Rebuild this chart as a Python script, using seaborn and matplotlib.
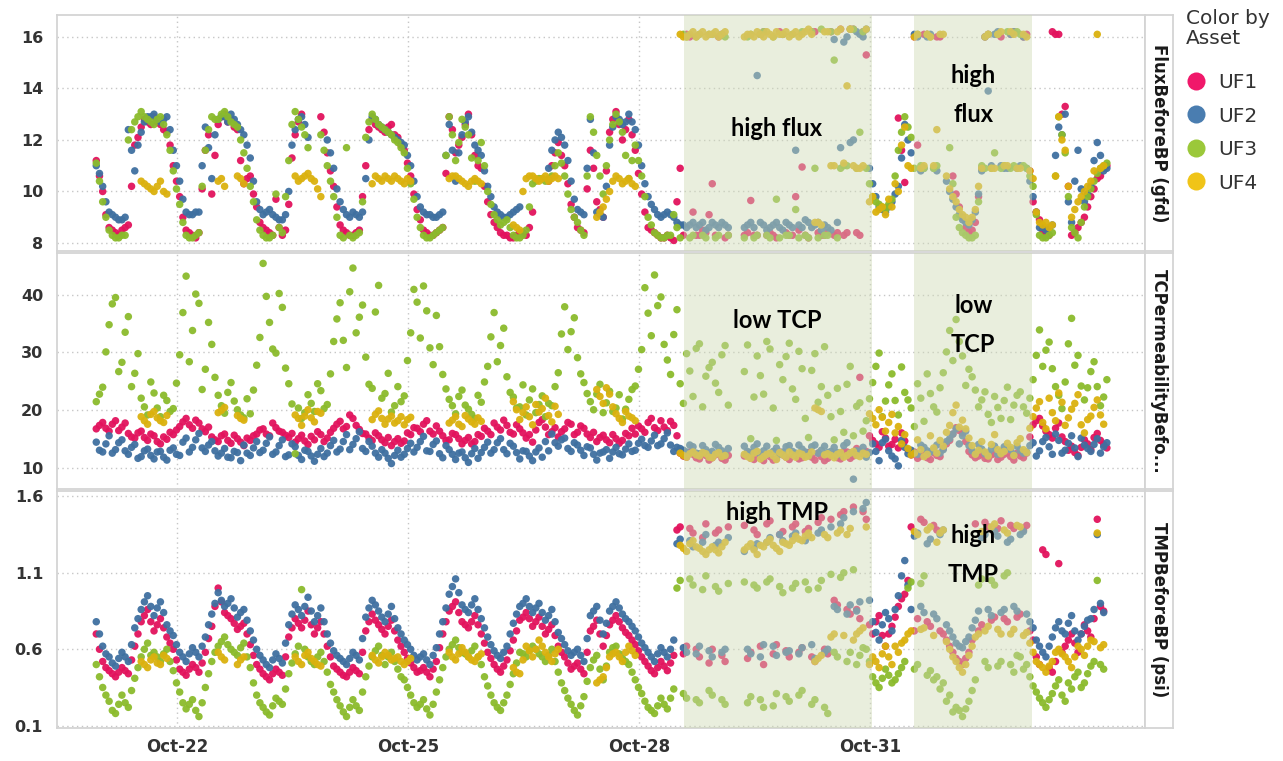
import numpy as np
import pandas as pd
import matplotlib
matplotlib.use("Agg")
import matplotlib.pyplot as plt
from matplotlib.lines import Line2D
import seaborn as sns

nan = np.nan

# ---- data: readings every 2 hours from Oct 20.95 (day-of-October); the *_odd lists
# ---- hold the readings taken one hour later in each slot ----
T0 = 20.95
STEP_DAYS = 1 / 12

flux_uf1 = [
    11.2, 10.0, 8.6, 8.4, 8.5, 8.7, 11.8, 12.5, 12.7, 12.9, 12.6, 12.3,
    11.0, 9.8, 8.5, 8.3, 8.4, 11.6, 9.9, 12.6, 13.0, 12.8, 12.4, 10.3,
    10.6, 9.4, 8.6, 8.4, 9.7, 8.3, 9.5, 12.2, 13.0, nan, nan, 12.9,
    11.5, 10.2, 8.7, 8.4, 8.3, 8.5, 11.0, 12.8, 12.5, 12.3, 12.6, 12.1,
    11.6, 10.6, 9.3, 8.5, 8.3, 8.4, 8.6, 12.9, 11.5, 12.1, 13.0, 11.4,
    10.9, 9.6, 8.8, 8.4, 8.3, 8.2, 8.4, 8.3, 9.2, nan, nan, 11.0,
    11.9, 11.0, 9.5, 8.6, 8.4, 11.6, 9.6, 9.0, 12.3, 13.1, 12.0, 12.8,
    11.6, 9.9, 8.6, 8.4, 8.2, 8.3, 8.1, 10.9, 16.1, 9.2, 8.3, 8.4,
    10.3, 16.0, 8.2, nan, nan, 8.3, 9.65, 8.3, 16.2, 8.4, 8.2, 16.1,
    8.3, 9.8, 10.95, 8.2, 16.2, 8.3, 8.4, 8.3, 16.3, 8.4, 16.3, 8.3,
    15.3, nan, nan, nan, nan, 12.85, 10.35, nan, 11.8, 16.1, nan, 16.0,
    nan, nan, 9.9, 9.0, 8.4, 8.8, 10.9, 16.1, nan, 16.0, nan, 16.2,
    nan, 16.1, 9.6, 8.9, 8.4, 16.2, 16.1, 13.3, 8.3, 8.6, 9.0, 9.8,
    10.5, 10.9,
]
flux_uf1_odd = [
    10.6, 9.1, 8.5, 8.3, 8.6, 10.2, 12.1, 12.8, 12.6, 12.7, 12.4, 11.8,
    10.4, 9.0, 8.4, 8.2, 10.1, 12.2, 11.4, 12.9, 12.7, 12.5, 11.2, 10.5,
    9.9, 8.8, 8.5, 8.3, 8.6, 8.5, 11.3, 12.7, nan, nan, nan, 12.3,
    10.8, 9.4, 8.5, 8.3, 8.4, 9.8, 12.4, 12.6, 12.4, 12.5, 12.2, 11.8,
    11.1, 9.9, 8.9, 8.4, 8.3, 8.5, 10.7, 12.4, 11.8, 12.6, 12.2, 11.0,
    10.2, 9.1, 8.6, 8.3, 8.2, 8.3, 8.4, 8.6, nan, nan, 10.4, 11.5,
    11.4, 10.3, 9.0, 8.5, 10.1, 10.9, 9.3, 10.8, 12.8, 12.6, 12.4, 12.2,
    10.7, 9.2, 8.5, 8.3, 8.2, 8.2, 9.6, 8.3, 16.0, 8.3, 8.5, 9.1,
    8.3, 16.1, 8.3, nan, nan, 8.4, 8.3, 16.1, 8.3, 8.3, 16.2, 8.4,
    8.3, 8.5, 8.3, 16.2, 8.4, 8.3, 16.2, 8.4, 8.3, 16.3, 8.4, 16.2,
    nan, nan, nan, nan, nan, 11.6, nan, 16.0, nan, 16.1, nan, 16.0,
    nan, 10.6, 9.4, 8.6, 8.5, 9.8, 16.0, nan, 16.1, nan, 16.1, nan,
    16.0, 10.8, 9.2, 8.5, 8.3, 16.1, 13.0, 10.2, 8.4, 8.8, 9.4, 10.1,
    10.6, 11.0,
]
flux_uf2 = [
    11.0, 10.2, 9.2, 9.0, 8.9, 12.4, 10.8, 12.3, 12.9, 13.0, 12.7, 12.9,
    11.6, 10.4, 9.2, 9.1, 9.2, 12.5, 10.5, 12.8, 12.9, 13.0, 12.6, 12.2,
    11.3, 9.6, 9.1, 9.3, 9.0, 8.9, 10.0, 12.4, 12.9, 12.1, nan, nan,
    12.0, 10.9, 9.6, 9.1, 9.2, 9.0, 10.5, 12.9, 12.6, 12.4, 12.2, 12.0,
    11.8, 11.0, 9.8, 9.2, 9.1, 9.0, 9.2, 12.6, 10.4, 12.2, 12.9, 11.8,
    11.4, 10.2, 9.4, 9.1, 9.0, 9.2, 9.4, nan, nan, nan, nan, 11.6,
    12.3, 11.8, 10.4, 9.3, 9.1, 12.8, 9.2, 9.0, 11.8, 12.9, 12.6, 13.0,
    12.4, 11.0, 9.8, 9.3, 9.0, 9.2, 9.0, 8.7, 8.6, 8.8, 8.7, 8.5,
    8.8, 8.6, 8.7, nan, nan, 8.6, 8.8, 14.5, 8.7, 8.6, 8.8, 8.5,
    8.7, 11.6, 8.6, 8.8, 8.7, 8.5, 8.6, 15.9, 11.7, 16.0, 12.0, 16.1,
    16.3, 10.3, 9.4, 9.2, 9.6, 10.2, 12.6, 11.5, 16.0, 10.9, 16.1, 10.8,
    nan, 10.0, 9.4, 8.9, 8.7, 9.2, 10.8, 13.9, 16.1, 11.0, 10.9, 16.2,
    11.0, 10.9, 9.8, 8.6, 8.5, 8.7, 12.5, 13.0, 8.8, 11.6, 9.6, 10.2,
    11.9, 10.8,
]
flux_uf2_odd = [
    10.7, 9.6, 9.1, 8.9, 9.0, 11.6, 11.8, 12.7, 12.9, 12.8, 12.8, 12.4,
    11.0, 9.7, 9.1, 9.2, 11.0, 11.7, 12.2, 12.9, 12.7, 12.8, 12.4, 11.8,
    10.4, 9.3, 9.2, 9.1, 8.9, 9.1, 11.8, 12.8, 12.6, nan, nan, nan,
    11.5, 10.1, 9.3, 9.0, 9.1, 9.2, 12.0, 12.8, 12.5, 12.3, 12.1, 11.9,
    11.4, 10.4, 9.4, 9.1, 9.0, 9.1, 11.4, 11.6, 11.5, 12.7, 12.3, 11.6,
    10.8, 9.8, 9.2, 9.0, 9.1, 9.3, nan, nan, nan, nan, 10.9, 12.0,
    12.1, 11.2, 9.7, 9.2, 10.9, 11.5, 9.1, 10.2, 12.5, 12.8, 12.7, 12.7,
    11.8, 10.3, 9.5, 9.1, 9.1, 9.1, 8.8, 8.7, 8.7, 8.6, 8.8, 8.6,
    8.7, 8.8, 8.6, nan, nan, 8.7, 8.6, 8.8, 8.5, 8.7, 8.6, 8.8,
    8.6, 8.7, 8.9, 8.6, 8.8, 8.7, 8.5, 8.8, 15.8, 11.9, 16.2, 16.0,
    10.9, 9.8, 9.3, 9.4, 9.9, 11.3, 12.0, 16.1, 10.8, 16.0, 10.9, nan,
    10.4, 9.7, 9.1, 8.8, 8.9, 9.9, 16.0, 11.0, 16.2, 10.9, 16.1, 10.9,
    16.0, 10.4, 9.2, 8.6, 8.6, 11.4, 12.2, 9.6, 10.4, 10.1, 9.9, 11.2,
    11.4, 10.9,
]
flux_uf3 = [
    11.1, 9.6, 8.5, 8.2, 8.3, 12.0, 12.7, 13.1, 12.8, 12.6, 12.9, 12.2,
    10.8, 9.5, 8.3, 8.2, 8.4, 11.6, 12.9, 12.8, 13.1, 12.7, 12.5, 11.5,
    10.2, 8.9, 8.3, 8.2, 9.9, 8.4, 11.2, 13.1, 12.5, 11.7, nan, 12.2,
    11.0, 9.8, 8.3, 11.7, 8.2, 8.4, 12.1, 13.0, 12.6, 12.4, 12.2, 11.9,
    11.5, 10.3, 9.0, 8.3, 8.2, 8.4, 8.6, 12.9, 11.2, 12.8, 12.2, 10.4,
    11.9, 10.0, 9.1, 8.7, 8.9, 8.3, 8.2, 8.5, 10.3, 10.5, 10.4, 10.6,
    11.5, 10.6, 9.3, 8.8, 8.3, 12.9, 11.4, 9.9, 12.0, 13.0, 12.3, 10.5,
    11.8, 10.6, 9.0, 8.4, 8.2, 8.3, 9.1, 8.2, 16.0, 8.3, 16.1, 8.2,
    16.1, 8.3, 16.0, nan, nan, 8.2, 16.1, 8.3, 16.2, 8.2, 9.7, 16.1,
    8.3, 9.3, 16.2, 8.2, 10.9, 16.3, 8.3, 15.1, 10.9, 11.0, 16.3, 12.3,
    10.9, 9.8, 9.5, 9.3, 9.7, 11.6, 12.9, 12.1, 16.1, 10.9, 16.0, 11.0,
    nan, 11.7, 9.0, 8.4, 8.2, 8.3, 11.0, 16.1, 11.5, 10.9, 16.2, 11.0,
    16.1, 10.9, 10.2, 8.3, 8.2, 8.4, 12.9, 11.5, 8.6, 8.2, 9.4, 10.1,
    10.7, 11.0,
]
flux_uf3_odd = [
    10.4, 9.0, 8.3, 8.2, 8.3, 12.4, 12.9, 12.9, 12.7, 12.8, 12.6, 11.6,
    10.1, 8.8, 8.2, 8.3, 10.2, 12.4, 12.8, 13.0, 12.9, 12.6, 12.0, 10.9,
    9.6, 8.5, 8.2, 8.3, 8.6, 9.8, 12.6, 12.8, 12.2, nan, nan, 11.6,
    10.4, 9.0, 8.2, 8.3, 8.3, 9.6, 12.7, 12.8, 12.5, 12.3, 12.0, 11.7,
    10.9, 9.7, 8.6, 8.2, 8.3, 8.5, 11.4, 12.2, 11.9, 12.5, 11.3, 11.2,
    11.0, 9.5, 8.9, 8.8, 8.6, 8.2, 8.3, 9.4, 10.4, 10.5, 10.5, 11.0,
    11.1, 9.9, 9.0, 8.5, 10.6, 12.3, 10.6, 11.0, 12.6, 12.7, 11.4, 11.2,
    11.2, 9.8, 8.7, 8.3, 8.2, 8.3, 8.6, 16.1, 8.2, 16.0, 8.3, 16.1,
    8.2, 16.1, 8.3, nan, nan, 16.0, 8.2, 16.1, 8.3, 16.0, 8.2, 8.3,
    16.1, 8.2, 8.3, 16.2, 8.2, 8.3, 16.2, 8.2, 11.0, 16.3, 10.9, 16.2,
    10.3, 9.6, 9.4, 9.5, 10.6, 12.3, 12.5, 10.9, 11.0, 16.1, 10.9, nan,
    nan, 10.3, 8.6, 8.3, 8.2, 9.6, 10.9, 10.9, 16.1, 11.0, 10.9, 16.2,
    11.0, 10.6, 9.1, 8.2, 8.3, 10.6, 12.2, 9.8, 8.4, 8.8, 9.8, 10.4,
    10.9, 11.1,
]
flux_uf4 = [
    nan, nan, nan, nan, nan, nan, nan, 10.4, 10.2, 10.0, 10.4, 9.9,
    nan, nan, nan, nan, nan, nan, nan, 10.4, 10.2, nan, 10.6, 10.3,
    nan, nan, nan, nan, nan, nan, nan, 10.6, 10.5, 10.7, 10.4, 9.8,
    nan, nan, nan, nan, nan, nan, nan, 10.3, 10.5, 10.6, 10.4, 10.5,
    10.3, 10.4, nan, nan, nan, nan, nan, 10.5, 10.6, 10.4, 10.2, 10.5,
    10.3, nan, nan, nan, nan, 8.7, 8.5, 10.5, 10.6, 10.4, 10.6, 10.5,
    10.5, nan, nan, nan, nan, nan, 9.0, 9.4, 10.0, 10.6, 10.3, 10.5,
    10.2, nan, nan, nan, nan, nan, nan, 16.1, 16.0, 16.2, 16.1, 16.0,
    16.1, 16.0, 16.2, nan, nan, 16.0, 16.1, 16.2, 16.0, 16.1, 16.2, 16.1,
    16.0, 16.2, 16.1, 16.3, 8.8, 8.7, 16.2, 11.0, 16.3, 14.1, 11.0, 10.9,
    16.3, 9.8, 9.3, 9.1, 9.4, 10.0, 12.5, 10.9, 16.1, 11.0, 16.0, 12.4,
    16.1, 10.1, 9.6, 9.1, 8.8, 9.3, 10.9, 16.1, 10.9, 16.2, 11.0, 16.1,
    10.9, 16.0, 10.5, 8.8, 8.8, 8.7, 12.9, 11.6, 9.0, 9.6, 10.0, 10.4,
    16.1, 11.0,
]
flux_uf4_odd = [
    nan, nan, nan, nan, nan, nan, nan, 10.3, 10.1, 10.2, 10.0, nan,
    nan, nan, nan, nan, nan, nan, nan, 10.5, nan, nan, 10.5, nan,
    nan, nan, nan, nan, nan, nan, nan, 10.4, 10.6, 10.5, 10.1, nan,
    nan, nan, nan, nan, nan, nan, nan, 10.6, 10.4, 10.5, 10.6, 10.4,
    10.5, nan, nan, nan, nan, nan, nan, 10.6, 10.5, 10.3, 10.4, 10.4,
    nan, nan, nan, nan, nan, 8.6, 10.0, 10.6, 10.5, 10.5, 10.4, 10.6,
    nan, nan, nan, nan, nan, nan, 9.2, 9.7, 10.4, 10.5, 10.4, 10.3,
    nan, nan, nan, nan, nan, nan, nan, 16.0, 16.1, 16.0, 16.2, 16.1,
    16.2, 16.1, nan, nan, nan, 16.1, 16.0, 16.1, 16.2, 16.0, 16.1, 16.2,
    16.1, 16.0, 16.2, 16.1, 8.8, 16.2, 11.0, 16.2, 11.1, 16.3, 10.9, 11.0,
    9.6, 9.2, 9.4, 9.7, 10.3, 11.8, 11.0, 16.0, 10.9, 16.1, 11.0, 16.1,
    10.6, 9.8, 9.3, 9.0, 9.0, 10.2, 16.0, 10.9, 16.1, 11.0, 16.2, 10.9,
    16.1, 10.8, 9.2, 8.7, 8.6, 10.6, 12.0, 10.2, 9.3, 9.8, 10.2, 10.8,
    10.9, nan,
]

tcp_uf1 = [
    16.8, 17.9, 16.4, 18.2, 17.1, 16.0, 15.2, 16.4, 14.8, 15.6, 14.2, 15.0,
    15.8, 17.2, 18.6, 16.9, 17.8, 16.3, 15.4, 14.6, 15.9, 14.3, 15.1, 13.9,
    14.8, 15.9, 16.8, 15.6, 17.0, 16.2, 15.3, 14.5, 15.7, 14.1, 14.9, 15.8,
    15.2, 16.9, 18.1, 17.2, 18.6, 16.7, 15.9, 14.8, 15.6, 14.4, 13.9, 15.1,
    14.7, 15.8, 16.9, 17.6, 16.4, 17.3, 15.6, 14.9, 15.8, 14.2, 15.3, 14.6,
    15.5, 16.4, 17.8, 16.6, 17.4, 15.9, 16.8, 15.2, 14.5, 17.9, 17.1, 16.3,
    15.4, 16.8, 17.6, 16.2, 16.9, 15.3, 14.6, 15.7, 14.4, 15.1, 14.8, 15.6,
    15.9, 16.8, 17.9, 17.0, 18.2, 16.5, 17.4, 12.6, 11.9, 12.4, 11.6, 12.2,
    11.8, 12.5, 11.4, nan, nan, 12.1, 11.7, 12.6, 11.3, 12.0, 11.6, 12.3,
    11.5, 12.2, 11.8, 12.7, 11.4, 12.0, 11.7, 12.4, 11.6, 12.8, 12.1, 25.7,
    12.9, 14.8, 13.6, 15.2, 14.1, 13.5, 14.7, 12.3, 11.7, 12.6, 11.5, 12.2,
    13.4, 14.8, 17.0, 16.1, 12.9, 11.8, 12.4, 11.6, 12.5, 11.9, 12.7, 11.4,
    12.1, 12.6, 17.5, 18.6, 16.4, 15.2, 17.8, 14.6, 13.8, 12.2, 14.9, 13.2,
    16.0, 14.1,
]
tcp_uf1_odd = [
    17.4, 16.9, 17.6, 16.5, 17.8, 15.4, 16.1, 15.3, 15.9, 14.6, 15.4, 16.2,
    16.6, 18.0, 17.5, 18.3, 16.8, 17.1, 14.9, 15.6, 14.8, 15.7, 14.5, 15.2,
    15.6, 16.6, 15.9, 17.8, 16.4, 15.7, 16.0, 15.1, 14.7, 15.5, 16.3, 14.6,
    16.2, 17.6, 16.8, 19.2, 17.4, 16.0, 15.2, 16.1, 14.9, 15.3, 14.6, 14.3,
    16.1, 17.0, 16.3, 18.2, 15.9, 16.4, 14.8, 16.0, 15.1, 14.8, 14.2, 15.8,
    16.9, 15.8, 17.1, 18.3, 16.2, 17.5, 16.1, 15.8, 16.6, 18.4, 15.8, 17.0,
    16.3, 17.9, 15.8, 17.3, 15.9, 16.2, 15.3, 14.9, 15.8, 14.3, 16.0, 16.9,
    17.3, 16.2, 18.6, 16.5, 17.1, 18.1, 15.6, 12.1, 12.8, 11.8, 12.6, 11.4,
    12.3, 11.7, 12.2, nan, nan, 12.6, 11.5, 12.1, 12.4, 11.4, 12.8, 11.9,
    12.4, 11.6, 12.5, 11.9, 12.6, 11.3, 12.2, 11.8, 12.9, 11.7, 13.4, 12.5,
    15.6, 14.2, 16.3, 13.8, 15.0, 16.1, 13.2, 12.8, 12.1, 11.8, 12.7, 12.0,
    14.2, 15.9, 16.5, 14.6, 12.3, 12.1, 11.7, 12.3, 11.5, 12.4, 12.0, 12.6,
    11.8, 15.4, 18.2, 17.3, 15.8, 16.9, 15.4, 13.1, 12.7, 13.6, 14.2, 15.3,
    14.8, 13.5,
]
tcp_uf2 = [
    14.5, 12.8, 15.6, 13.2, 14.9, 12.4, 14.1, 12.0, 13.3, 11.6, 12.9, 11.4,
    13.5, 12.2, 15.2, 13.6, 16.0, 12.9, 14.6, 12.1, 13.4, 11.8, 12.7, 14.0,
    12.2, 14.6, 13.1, 15.4, 12.8, 14.9, 12.3, 13.7, 11.5, 12.9, 11.2, 13.4,
    12.6, 14.8, 13.3, 15.8, 14.1, 16.3, 12.9, 13.8, 11.9, 12.6, 10.8, 13.1,
    12.4, 14.3, 13.6, 15.5, 12.9, 14.7, 11.8, 13.2, 11.5, 12.8, 11.0, 13.4,
    12.7, 14.5, 13.2, 15.1, 12.5, 13.8, 11.6, 12.9, 11.3, 13.5, 14.6, 15.9,
    13.8, 15.2, 12.9, 14.0, 12.2, 13.5, 11.4, 12.8, 11.7, 13.6, 12.3, 14.2,
    13.1, 15.0, 13.6, 15.7, 14.2, 16.1, 12.9, 13.4, 12.8, 13.7, 12.5, 13.2,
    12.9, 13.6, 12.4, nan, nan, 13.8, 12.7, 14.2, 13.0, 12.5, 13.5, 12.8,
    13.9, 12.6, 13.3, 12.2, 14.0, 13.1, 12.7, 13.6, 12.3, 14.4, 8.1, 12.9,
    11.9, 14.2, 11.3, 15.0, 12.1, 10.4, 13.6, 13.1, 12.4, 13.6, 12.8, 14.0,
    13.2, 15.1, 16.8, 15.6, 13.9, 12.7, 13.3, 12.6, 13.8, 12.9, 13.5, 12.4,
    13.1, 12.8, 14.4, 13.0, 15.3, 12.4, 14.8, 13.1, 15.6, 12.0, 14.0, 12.9,
    15.1, 13.7,
]
tcp_uf2_odd = [
    13.1, 14.2, 12.6, 14.4, 13.0, 13.6, 11.7, 13.0, 12.2, 12.8, 11.9, 13.1,
    12.4, 14.5, 12.8, 14.9, 13.5, 14.0, 13.0, 12.6, 11.9, 12.9, 11.3, 12.6,
    13.5, 12.7, 14.3, 12.4, 13.9, 12.0, 14.2, 12.2, 13.1, 12.1, 12.4, 12.0,
    13.9, 12.8, 14.6, 13.2, 15.1, 13.4, 14.6, 12.6, 13.2, 11.7, 12.2, 11.9,
    13.4, 12.8, 14.6, 13.0, 14.1, 12.5, 13.9, 12.4, 12.6, 11.8, 12.5, 11.7,
    13.6, 12.6, 14.4, 13.2, 14.3, 12.7, 13.0, 12.1, 12.8, 11.9, 13.0, 14.4,
    14.9, 13.4, 14.4, 13.1, 13.7, 12.4, 12.6, 13.2, 12.8, 12.5, 13.3, 12.9,
    14.3, 13.9, 14.7, 13.9, 15.1, 14.0, 13.6, 13.1, 14.0, 12.6, 13.9, 12.7,
    14.1, 13.0, 13.4, nan, nan, 12.9, 13.6, 12.4, 13.8, 12.9, 12.4, 13.7,
    12.9, 14.0, 12.8, 13.7, 12.6, 13.8, 12.9, 12.7, 13.9, 12.6, 13.0, 13.6,
    12.7, 12.9, 14.4, 13.0, 11.6, 14.8, 12.5, 12.6, 14.0, 13.0, 13.2, 12.6,
    14.6, 15.9, 14.2, 16.4, 13.0, 14.1, 12.5, 13.3, 12.4, 13.7, 13.2, 13.8,
    12.6, 13.9, 12.1, 14.6, 13.7, 15.9, 12.6, 14.3, 13.5, 15.2, 13.4, 14.1,
    12.6, 14.4,
]
tcp_uf3 = [
    21.5, 24.0, 34.8, 39.5, 28.3, 36.2, 26.4, 22.1, 19.2, 23.0, 18.9, 21.7,
    20.3, 29.6, 43.2, 33.8, 38.5, 27.1, 31.4, 22.6, 19.5, 24.8, 20.1, 18.7,
    19.4, 27.8, 45.4, 35.2, 29.9, 37.8, 24.6, 12.5, 18.6, 22.7, 19.8, 23.4,
    21.0, 31.9, 38.6, 27.4, 44.6, 36.1, 29.2, 23.8, 41.6, 22.9, 19.7, 24.1,
    22.5, 33.4, 38.7, 41.5, 30.8, 36.4, 26.2, 21.9, 19.4, 23.5, 20.2, 18.6,
    21.4, 27.6, 36.9, 31.2, 25.8, 22.3, 20.6, 19.2, 23.7, 21.0, 18.9, 20.8,
    26.5, 37.9, 33.6, 29.1, 24.8, 21.5, 22.8, 19.6, 23.3, 20.4, 18.5, 21.9,
    24.2, 30.5, 36.8, 43.4, 39.6, 28.7, 33.1, 24.6, 29.8, 22.4, 31.5, 25.9,
    28.3, 23.1, 31.2, nan, nan, 26.7, 15.1, 29.4, 22.8, 30.6, 14.8, 25.3,
    31.6, 21.9, 27.2, 15.3, 29.8, 24.1, 22.6, 14.9, 19.8, 24.5, 15.6, 21.3,
    18.2, 24.8, 29.9, 21.6, 26.3, 19.2, 23.1, 20.4, 24.6, 18.1, 22.9, 19.7,
    26.5, 33.8, 35.7, 29.4, 27.1, 23.5, 21.8, 19.3, 22.4, 18.6, 24.0, 20.9,
    23.2, 19.5, 25.3, 33.9, 30.4, 27.2, 22.6, 24.9, 35.9, 29.5, 21.8, 26.7,
    24.1, 22.3,
]
tcp_uf3_odd = [
    22.8, 30.1, 38.4, 26.7, 33.5, 24.1, 29.8, 20.6, 24.9, 20.4, 22.6, 19.8,
    24.7, 36.9, 28.4, 40.1, 23.6, 35.2, 25.7, 20.8, 23.1, 21.6, 19.2, 22.0,
    23.5, 32.6, 39.7, 30.6, 40.2, 27.3, 21.1, 20.4, 19.6, 21.2, 24.6, 20.3,
    26.3, 35.8, 32.1, 40.5, 33.4, 38.2, 24.5, 37.0, 22.1, 26.4, 20.8, 21.5,
    28.6, 40.9, 32.5, 37.2, 27.9, 31.0, 23.7, 20.8, 22.4, 20.9, 19.3, 22.6,
    24.9, 32.7, 28.4, 34.2, 23.1, 20.4, 24.4, 21.8, 19.6, 22.5, 21.2, 24.1,
    33.2, 30.5, 36.0, 26.3, 22.9, 20.1, 24.5, 21.3, 19.8, 22.7, 20.2, 23.6,
    27.1, 41.2, 32.9, 38.1, 31.4, 26.2, 37.4, 21.2, 26.8, 30.7, 20.6, 27.4,
    24.7, 29.6, 20.9, nan, nan, 31.3, 22.3, 26.0, 31.9, 20.4, 27.9, 29.3,
    23.7, 30.2, 18.6, 26.9, 21.4, 31.0, 18.9, 23.8, 16.2, 27.6, 20.7, 16.4,
    22.0, 27.6, 18.9, 24.4, 21.7, 27.5, 21.8, 17.2, 22.1, 26.3, 20.6, 23.9,
    30.1, 28.6, 31.9, 24.3, 25.8, 20.6, 23.2, 17.9, 20.5, 21.7, 18.4, 22.6,
    20.6, 22.1, 29.5, 27.6, 31.8, 24.1, 20.3, 31.5, 27.8, 24.2, 23.9, 28.4,
    20.8, 25.3,
]
tcp_uf4 = [
    nan, nan, nan, nan, nan, nan, nan, 18.9, 17.6, 19.8, 18.2, 19.1,
    nan, nan, nan, nan, nan, nan, nan, 19.6, 20.5, nan, 19.1, 18.3,
    nan, nan, nan, nan, nan, nan, nan, 19.2, 17.4, 20.1, 18.0, 19.5,
    nan, nan, nan, nan, nan, nan, nan, 18.4, 19.9, 17.6, 19.0, 18.2,
    17.5, 18.8, nan, nan, nan, nan, nan, 17.8, 18.9, 17.2, 18.5, 17.6,
    18.1, nan, nan, nan, nan, 21.5, 18.4, 20.6, 17.5, 19.7, 22.1, 18.0,
    19.3, nan, nan, nan, nan, nan, 23.6, 21.2, 22.8, 19.4, 17.9, 19.0,
    18.2, nan, nan, nan, nan, nan, nan, 12.6, 11.9, 12.8, 12.1, 12.5,
    11.8, 12.7, 12.2, nan, nan, 12.4, 11.7, 12.9, 12.0, 12.6, 11.5, 12.3,
    12.8, 11.9, 12.4, 12.1, 20.4, 19.8, 12.5, 11.8, 12.7, 12.2, 12.9, 12.0,
    12.4, 18.6, 20.1, 16.4, 19.3, 17.2, 15.8, 12.3, 14.9, 12.0, 15.6, 12.6,
    13.8, 17.4, 20.9, 18.3, 15.2, 12.4, 14.6, 12.1, 15.8, 12.5, 14.3, 12.2,
    15.1, 12.7, 18.9, 21.5, 16.8, 19.6, 23.0, 17.4, 20.2, 22.7, 16.1, 19.0,
    21.8, 17.6,
]
tcp_uf4_odd = [
    nan, nan, nan, nan, nan, nan, nan, 18.2, 19.3, 18.7, 17.9, nan,
    nan, nan, nan, nan, nan, nan, nan, 20.0, nan, nan, 18.6, nan,
    nan, nan, nan, nan, nan, nan, nan, 18.6, 19.0, 18.7, 19.8, nan,
    nan, nan, nan, nan, nan, nan, nan, 19.3, 18.6, 18.5, 17.8, 18.9,
    18.4, nan, nan, nan, nan, nan, nan, 18.3, 17.6, 19.1, 18.0, 18.7,
    nan, nan, nan, nan, nan, 20.1, 19.6, 18.9, 21.0, 20.3, 19.1, 20.7,
    nan, nan, nan, nan, nan, nan, 22.4, 23.9, 20.6, 18.6, 19.8, 18.7,
    nan, nan, nan, nan, nan, nan, nan, 12.2, 12.5, 12.3, 12.7, 11.9,
    12.4, 12.0, nan, nan, nan, 12.0, 12.6, 11.6, 12.4, 12.1, 12.7, 11.9,
    12.3, 12.6, 11.9, 12.8, 20.1, 12.3, 12.2, 12.4, 11.9, 12.6, 12.2, 12.6,
    19.4, 17.5, 18.8, 17.9, 16.1, 14.2, 13.4, 12.6, 13.2, 12.4, 13.5, 14.8,
    16.2, 19.6, 17.1, 16.8, 13.9, 13.1, 12.8, 14.1, 13.2, 12.9, 13.6, 14.4,
    13.2, 16.9, 20.4, 17.9, 22.1, 18.2, 21.4, 18.7, 21.2, 17.5, 18.4, 20.5,
    19.2, nan,
]

tmp_uf1 = [
    0.70, 0.52, 0.46, 0.42, 0.48, 0.44, 0.62, 0.78, 0.86, 0.72, 0.80, 0.68,
    0.60, 0.47, 0.43, 0.50, 0.45, 0.58, 0.75, 1.00, 0.84, 0.80, 0.73, 0.77,
    0.63, 0.50, 0.44, 0.40, 0.47, 0.43, 0.68, 0.80, 0.74, 0.85, 0.70, 0.78,
    0.62, 0.49, 0.45, 0.42, 0.48, 0.44, 0.72, 0.83, 0.76, 0.70, 0.79, 0.66,
    0.58, 0.51, 0.45, 0.48, 0.42, 0.52, 0.70, 0.85, 0.91, 0.78, 0.74, 0.82,
    0.70, 0.58, 0.50, 0.45, 0.53, 0.66, 0.79, 0.84, 0.75, 0.81, 0.70, 0.76,
    0.62, 0.55, 0.47, 0.51, 0.44, 0.72, 0.79, 0.62, 0.76, 0.82, 0.74, 0.69,
    0.63, 0.55, 0.49, 0.44, 0.52, 0.46, 0.56, 1.40, 0.62, 1.36, 0.55, 1.42,
    0.60, 1.38, 0.52, nan, nan, 1.41, 0.58, 1.35, 0.50, 1.44, 0.63, 1.37,
    0.55, 1.42, 0.61, 1.39, 0.52, 1.46, 0.57, 0.92, 1.48, 0.86, 1.53, 0.80,
    1.45, 0.70, 0.82, 0.62, 0.75, 0.88, 0.96, 1.40, 0.80, 1.43, 0.75, 1.38,
    0.70, 0.62, 0.54, 0.50, 0.58, 1.42, 0.76, 1.40, 0.81, 1.44, 0.78, 1.39,
    0.83, 1.41, 0.66, 0.50, 1.22, 0.45, 1.16, 0.62, 0.70, 0.58, 0.76, 0.68,
    1.45, 0.85,
]
tmp_uf1_odd = [
    0.60, 0.48, 0.44, 0.45, 0.46, 0.53, 0.70, 0.82, 0.78, 0.76, 0.74, 0.64,
    0.53, 0.45, 0.47, 0.48, 0.51, 0.67, 0.88, 0.91, 0.82, 0.77, 0.75, 0.70,
    0.56, 0.47, 0.42, 0.44, 0.45, 0.55, 0.74, 0.77, 0.79, 0.76, 0.74, 0.70,
    0.55, 0.47, 0.43, 0.45, 0.46, 0.58, 0.78, 0.79, 0.73, 0.75, 0.72, 0.62,
    0.54, 0.48, 0.46, 0.45, 0.47, 0.61, 0.78, 0.88, 0.84, 0.76, 0.78, 0.76,
    0.64, 0.54, 0.47, 0.49, 0.59, 0.72, 0.81, 0.80, 0.78, 0.75, 0.73, 0.69,
    0.58, 0.51, 0.49, 0.47, 0.58, 0.75, 0.70, 0.69, 0.79, 0.78, 0.71, 0.66,
    0.59, 0.52, 0.46, 0.48, 0.49, 0.51, 1.38, 0.57, 1.39, 0.60, 1.33, 0.51,
    1.36, 0.56, 1.40, nan, nan, 0.54, 1.38, 0.62, 1.42, 0.57, 1.35, 0.59,
    1.40, 0.58, 1.37, 0.55, 1.43, 0.60, 1.45, 0.89, 1.50, 0.83, 0.86, 1.50,
    0.76, 0.78, 0.69, 0.70, 0.81, 0.93, 1.05, 0.72, 1.45, 0.78, 1.41, 0.72,
    0.66, 0.58, 0.52, 0.54, 0.66, 0.72, 1.43, 0.79, 1.39, 0.80, 1.41, 0.81,
    1.38, 0.72, 0.55, 1.25, 0.48, 0.52, 0.58, 0.66, 0.64, 0.70, 0.72, 0.80,
    0.88, nan,
]
tmp_uf2 = [
    0.78, 0.62, 0.55, 0.49, 0.58, 0.52, 0.74, 0.86, 0.95, 0.82, 0.91, 0.76,
    0.69, 0.58, 0.52, 0.61, 0.55, 0.68, 0.83, 0.97, 0.88, 0.93, 0.81, 0.86,
    0.72, 0.60, 0.53, 0.48, 0.57, 0.51, 0.76, 0.89, 0.82, 0.94, 0.78, 0.87,
    0.70, 0.59, 0.54, 0.50, 0.58, 0.53, 0.81, 0.92, 0.85, 0.78, 0.88, 0.74,
    0.66, 0.60, 0.53, 0.57, 0.50, 0.61, 0.78, 0.96, 1.06, 0.89, 0.84, 0.93,
    0.80, 0.68, 0.59, 0.54, 0.62, 0.77, 0.88, 0.93, 0.84, 0.90, 0.79, 0.86,
    0.71, 0.63, 0.56, 0.60, 0.52, 0.82, 0.88, 0.70, 0.85, 0.91, 0.83, 0.78,
    0.72, 0.64, 0.58, 0.52, 0.61, 0.55, 0.66, 1.32, 0.58, 1.27, 0.62, 1.35,
    0.55, 1.30, 0.60, nan, nan, 1.24, 0.57, 1.29, 0.63, 1.33, 0.56, 1.31,
    0.59, 1.36, 0.61, 1.34, 0.54, 1.38, 0.60, 0.88, 1.42, 0.83, 1.50, 0.91,
    1.56, 0.78, 0.66, 0.84, 0.72, 0.95, 1.18, 0.86, 1.36, 0.84, 1.32, 0.80,
    1.38, 0.72, 0.64, 0.61, 0.68, 0.79, 1.33, 0.86, 1.37, 0.84, 1.30, 0.88,
    1.35, 0.83, 0.74, 0.62, 0.55, 0.68, 0.78, 0.70, 0.82, 0.66, 0.75, 0.80,
    1.35, 0.84,
]
tmp_uf2_odd = [
    0.70, 0.57, 0.51, 0.54, 0.55, 0.63, 0.80, 0.91, 0.88, 0.87, 0.84, 0.72,
    0.63, 0.55, 0.57, 0.58, 0.62, 0.76, 0.90, 0.92, 0.90, 0.87, 0.84, 0.79,
    0.66, 0.56, 0.50, 0.53, 0.54, 0.64, 0.83, 0.86, 0.88, 0.85, 0.82, 0.78,
    0.64, 0.56, 0.52, 0.54, 0.56, 0.67, 0.87, 0.89, 0.81, 0.83, 0.80, 0.70,
    0.63, 0.56, 0.55, 0.53, 0.56, 0.70, 0.87, 1.01, 0.97, 0.86, 0.89, 0.86,
    0.74, 0.63, 0.56, 0.58, 0.70, 0.83, 0.90, 0.88, 0.87, 0.84, 0.82, 0.78,
    0.67, 0.59, 0.58, 0.56, 0.67, 0.85, 0.79, 0.77, 0.88, 0.87, 0.80, 0.75,
    0.68, 0.61, 0.55, 0.57, 0.58, 0.60, 1.29, 0.61, 1.31, 0.57, 1.30, 0.59,
    1.28, 0.58, 1.33, nan, nan, 0.60, 1.26, 0.55, 1.30, 0.62, 1.35, 0.58,
    1.34, 0.57, 1.31, 0.63, 1.36, 0.58, 1.40, 0.86, 1.46, 0.89, 0.85, 1.52,
    0.92, 0.71, 0.76, 0.80, 0.86, 1.08, 1.02, 1.34, 0.88, 1.29, 0.83, 1.35,
    0.76, 0.68, 0.62, 0.65, 0.74, 0.85, 1.35, 0.82, 1.34, 0.86, 1.32, 0.85,
    1.37, 0.78, 0.66, 0.58, 0.62, 0.74, 0.72, 0.77, 0.72, 0.70, 0.79, 0.86,
    0.90, nan,
]
tmp_uf3 = [
    0.50, 0.35, 0.26, 0.18, 0.30, 0.22, 0.41, 0.55, 0.64, 0.58, 0.52, 0.60,
    0.46, 0.32, 0.21, 0.27, 0.16, 0.35, 0.52, 0.62, 0.68, 0.60, 0.56, 0.64,
    0.48, 0.30, 0.22, 0.17, 0.28, 0.24, 0.44, 0.57, 0.99, 0.55, 0.50, 0.58,
    0.45, 0.32, 0.23, 0.16, 0.27, 0.20, 0.42, 0.55, 0.62, 0.50, 0.58, 0.47,
    0.40, 0.30, 0.22, 0.27, 0.17, 0.32, 0.48, 0.60, 0.66, 0.58, 0.55, 0.62,
    0.50, 0.36, 0.25, 0.20, 0.30, 0.44, 0.58, 0.55, 0.62, 0.57, 0.52, 0.60,
    0.45, 0.33, 0.24, 0.17, 0.29, 0.48, 0.56, 0.40, 0.58, 0.62, 0.54, 0.50,
    0.40, 0.31, 0.22, 0.18, 0.28, 0.21, 0.34, 1.05, 0.28, 1.02, 0.25, 1.08,
    0.30, 0.98, 0.24, nan, nan, 1.04, 0.29, 1.00, 0.22, 1.06, 0.31, 0.97,
    0.26, 1.03, 0.33, 0.99, 0.27, 1.05, 0.18, 0.58, 1.07, 0.52, 1.12, 0.56,
    0.60, 0.42, 0.35, 0.47, 0.38, 0.44, 0.52, 1.04, 0.50, 1.08, 0.46, 0.42,
    0.38, 0.30, 0.22, 0.16, 0.26, 0.40, 1.06, 0.48, 1.02, 0.52, 1.10, 0.45,
    0.55, 0.50, 0.36, 0.28, 0.22, 0.31, 0.40, 0.26, 0.34, 0.45, 0.38, 0.49,
    1.05, 0.47,
]
tmp_uf3_odd = [
    0.42, 0.30, 0.20, 0.24, 0.25, 0.33, 0.48, 0.60, 0.56, 0.55, 0.57, 0.52,
    0.38, 0.25, 0.24, 0.20, 0.25, 0.44, 0.58, 0.65, 0.63, 0.58, 0.61, 0.55,
    0.38, 0.25, 0.19, 0.23, 0.26, 0.34, 0.51, 0.62, 0.60, 0.52, 0.55, 0.52,
    0.37, 0.27, 0.19, 0.22, 0.23, 0.32, 0.49, 0.59, 0.56, 0.55, 0.52, 0.42,
    0.35, 0.25, 0.24, 0.21, 0.24, 0.40, 0.55, 0.63, 0.61, 0.57, 0.59, 0.55,
    0.42, 0.30, 0.22, 0.25, 0.37, 0.51, 0.57, 0.59, 0.60, 0.55, 0.56, 0.52,
    0.38, 0.28, 0.20, 0.23, 0.39, 0.53, 0.47, 0.49, 0.61, 0.57, 0.52, 0.45,
    0.35, 0.26, 0.20, 0.23, 0.24, 0.28, 1.00, 0.31, 1.06, 0.27, 0.99, 0.33,
    1.01, 0.27, 1.03, nan, nan, 0.25, 1.02, 0.27, 1.04, 0.23, 1.01, 0.29,
    1.00, 0.30, 1.04, 0.24, 1.00, 0.22, 1.09, 0.55, 1.10, 0.58, 0.50, 0.61,
    0.52, 0.38, 0.41, 0.43, 0.40, 0.48, 1.00, 0.47, 1.03, 0.43, 0.40, 0.34,
    0.26, 0.19, 0.20, 0.21, 0.33, 1.02, 0.52, 1.05, 0.49, 1.08, 0.50, 0.56,
    0.47, 0.42, 0.32, 0.25, 0.27, 0.36, 0.30, 0.38, 0.42, 0.35, 0.44, 0.52,
    0.50, nan,
]
tmp_uf4 = [
    nan, nan, nan, nan, nan, nan, nan, 0.52, 0.48, 0.55, 0.50, 0.54,
    nan, nan, nan, nan, nan, nan, nan, 0.58, 0.53, nan, 0.50, 0.55,
    nan, nan, nan, nan, nan, nan, nan, 0.55, 0.50, 0.58, 0.52, 0.49,
    nan, nan, nan, nan, nan, nan, nan, 0.56, 0.51, 0.58, 0.53, 0.55,
    0.50, 0.54, nan, nan, nan, nan, nan, 0.58, 0.53, 0.61, 0.55, 0.52,
    0.57, nan, nan, nan, nan, 0.48, 0.44, 0.62, 0.55, 0.66, 0.58, 0.52,
    0.60, nan, nan, nan, nan, nan, 0.38, 0.42, 0.55, 0.58, 0.52, 0.62,
    0.56, nan, nan, nan, nan, nan, nan, 1.28, 1.24, 1.31, 1.26, 1.22,
    1.27, 1.23, 1.30, nan, nan, 1.25, 1.29, 1.22, 1.27, 1.32, 1.26, 1.30,
    1.28, 1.34, 1.31, 1.36, 0.52, 0.56, 1.33, 0.70, 1.38, 1.35, 0.66, 0.72,
    1.40, 0.55, 0.48, 0.62, 0.50, 0.58, 0.66, 0.72, 1.35, 0.74, 1.40, 1.30,
    1.38, 0.60, 0.52, 0.45, 0.56, 0.68, 1.37, 0.75, 1.42, 0.70, 1.36, 0.73,
    1.40, 0.71, 0.58, 0.50, 0.45, 0.52, 0.60, 0.55, 0.48, 0.62, 0.56, 0.66,
    1.36, 0.63,
]
tmp_uf4_odd = [
    nan, nan, nan, nan, nan, nan, nan, 0.50, 0.53, 0.51, 0.56, nan,
    nan, nan, nan, nan, nan, nan, nan, 0.55, nan, nan, 0.53, nan,
    nan, nan, nan, nan, nan, nan, nan, 0.52, 0.56, 0.54, 0.50, nan,
    nan, nan, nan, nan, nan, nan, nan, 0.53, 0.55, 0.56, 0.54, 0.52,
    0.52, nan, nan, nan, nan, nan, nan, 0.55, 0.57, 0.58, 0.53, 0.55,
    nan, nan, nan, nan, nan, 0.45, 0.53, 0.59, 0.60, 0.62, 0.55, 0.57,
    nan, nan, nan, nan, nan, nan, 0.40, 0.48, 0.57, 0.55, 0.58, 0.59,
    nan, nan, nan, nan, nan, nan, nan, 1.26, 1.29, 1.27, 1.24, 1.25,
    1.25, 1.27, nan, nan, nan, 1.27, 1.25, 1.28, 1.30, 1.28, 1.24, 1.29,
    1.31, 1.32, 1.34, 1.33, 0.54, 1.35, 0.68, 1.36, 0.69, 1.39, 0.70, 0.74,
    0.50, 0.52, 0.57, 0.55, 0.62, 0.64, 0.70, 1.37, 0.73, 1.38, 0.69, 1.36,
    0.65, 0.55, 0.48, 0.50, 0.62, 0.70, 0.72, 1.40, 0.73, 1.38, 0.70, 1.41,
    0.69, 0.64, 0.52, 0.48, 0.49, 0.58, 0.57, 0.52, 0.55, 0.60, 0.62, 0.65,
    0.61, nan,
]

assets = ["UF1", "UF2", "UF3", "UF4"]
measures = ["FluxBeforeBP (gfd)", "TCPermeabilityBefo...", "TMPBeforeBP (psi)"]
series = {
    measures[0]: [(flux_uf1, flux_uf1_odd), (flux_uf2, flux_uf2_odd),
                  (flux_uf3, flux_uf3_odd), (flux_uf4, flux_uf4_odd)],
    measures[1]: [(tcp_uf1, tcp_uf1_odd), (tcp_uf2, tcp_uf2_odd),
                  (tcp_uf3, tcp_uf3_odd), (tcp_uf4, tcp_uf4_odd)],
    measures[2]: [(tmp_uf1, tmp_uf1_odd), (tmp_uf2, tmp_uf2_odd),
                  (tmp_uf3, tmp_uf3_odd), (tmp_uf4, tmp_uf4_odd)],
}
date_ticks = [22, 25, 28, 31]
date_labels = ["Oct-22", "Oct-25", "Oct-28", "Oct-31"]
y_ticks = [[8, 10, 12, 14, 16], [10, 20, 30, 40], [0.1, 0.6, 1.1, 1.6]]
y_labels = [["8", "10", "12", "14", "16"], ["10", "20", "30", "40"],
            ["0.1", "0.6", "1.1", "1.6"]]
highlight_spans = [(28.58, 31.03), (31.57, 33.10)]
notes = [
    [("high flux", 29.79, 12.45), ("high\nflux", 32.34, 13.75)],
    [("low TCP", 29.79, 35.5), ("low\nTCP", 32.34, 34.7)],
    [("high TMP", 29.79, 1.495), ("high\nTMP", 32.34, 1.215)],
]

rows = []
for m in measures:
    for a, (even, odd) in zip(assets, series[m]):
        assert len(even) == 158 and len(odd) == 158, (m, a, len(even), len(odd))
        for k in range(158):
            rows.append((m, a, T0 + k * STEP_DAYS, even[k]))
            rows.append((m, a, T0 + (k + 0.5) * STEP_DAYS, odd[k]))
df = pd.DataFrame(rows, columns=["measure", "asset", "day", "value"]).dropna()

palette = {"UF1": "#e2135d", "UF2": "#3f70a0", "UF3": "#8bbb2c", "UF4": "#dbb10e"}
legend_palette = {"UF1": "#f0186a", "UF2": "#4a7db0", "UF3": "#9bc83a", "UF4": "#f0c418"}

sns.set_theme(style="white")
plt.rcParams["font.family"] = ["DejaVu Sans"]

W, H = 1283, 761
fig = plt.figure(figsize=(W / 100, H / 100), dpi=100)
fig.patch.set_facecolor("white")

left_px, right_px = 57, 1145
panel_px = [(15, 251), (253, 489), (491, 728)]
ylims = [(7.69, 16.85), (6.4, 47.2), (0.085, 1.635)]
frame_col = "#d4d4d4"

for idx, (m, (top, bot)) in enumerate(zip(measures, panel_px)):
    ax = fig.add_axes([left_px / W, 1 - bot / H, (right_px - left_px) / W, (bot - top) / H])
    sub = df[df["measure"] == m]
    sns.scatterplot(data=sub, x="day", y="value", hue="asset", hue_order=assets,
                    palette=palette, s=29, linewidth=0, alpha=0.95, legend=False,
                    ax=ax, zorder=2)
    for (a0, a1) in highlight_spans:
        ax.axvspan(a0, a1, color="#cfdab5", alpha=0.45, lw=0, zorder=3)
    for (txt, tx, ty) in notes[idx]:
        ax.text(tx, ty, txt, ha="center", va="center", fontsize=17, family="Lato",
                fontweight="bold", color="black", linespacing=1.85, zorder=5)
    ax.set_xlim(20.44, 34.57)
    ax.set_ylim(*ylims[idx])
    ax.set_xlabel("")
    ax.set_ylabel("")
    ax.set_yticks(y_ticks[idx])
    ax.set_yticklabels(y_labels[idx], fontsize=11.5, fontweight="bold", color="#333333")
    ax.set_xticks(date_ticks)
    if idx == 2:
        ax.set_xticklabels(date_labels, fontsize=12, fontweight="bold", color="#333333")
        ax.tick_params(axis="x", length=5, color="#bdbdbd", width=1, pad=2)
    else:
        ax.set_xticklabels([])
        ax.tick_params(axis="x", length=0)
    ax.tick_params(axis="y", length=0, pad=10)
    ax.grid(True, color="#c6c6c6", linestyle=(0, (1, 2.5)), linewidth=1.0)
    ax.set_axisbelow(True)
    for sp in ax.spines.values():
        sp.set_color(frame_col)
        sp.set_linewidth(1.3)

    # facet strip on the right
    sax = fig.add_axes([right_px / W, 1 - bot / H, 28 / W, (bot - top) / H])
    sax.set_xticks([])
    sax.set_yticks([])
    sax.set_facecolor("white")
    for sp in sax.spines.values():
        sp.set_color(frame_col)
        sp.set_linewidth(1.3)
    sax.text(0.5, 0.5, m, rotation=-90, ha="center", va="center", fontsize=12,
             fontweight="bold", color="#1a1a1a", transform=sax.transAxes)

fig.text(1186 / W, 1 - 9 / H, "Color by\nAsset", ha="left", va="top", fontsize=14.5,
         color="#333333", linespacing=1.05)
handles = [Line2D([], [], marker="o", linestyle="", markersize=13,
                  markerfacecolor=legend_palette[a], markeredgecolor="none") for a in assets]
leg = fig.legend(handles, assets, loc="upper left", bbox_to_anchor=(1182 / W, 1 - 69 / H),
                 frameon=False, fontsize=14.5, handletextpad=0.6, labelspacing=0.72,
                 handlelength=1.0, borderaxespad=0, borderpad=0.2)
for t in leg.get_texts():
    t.set_color("#333333")

fig.savefig("out.png", dpi=100, facecolor="white")
